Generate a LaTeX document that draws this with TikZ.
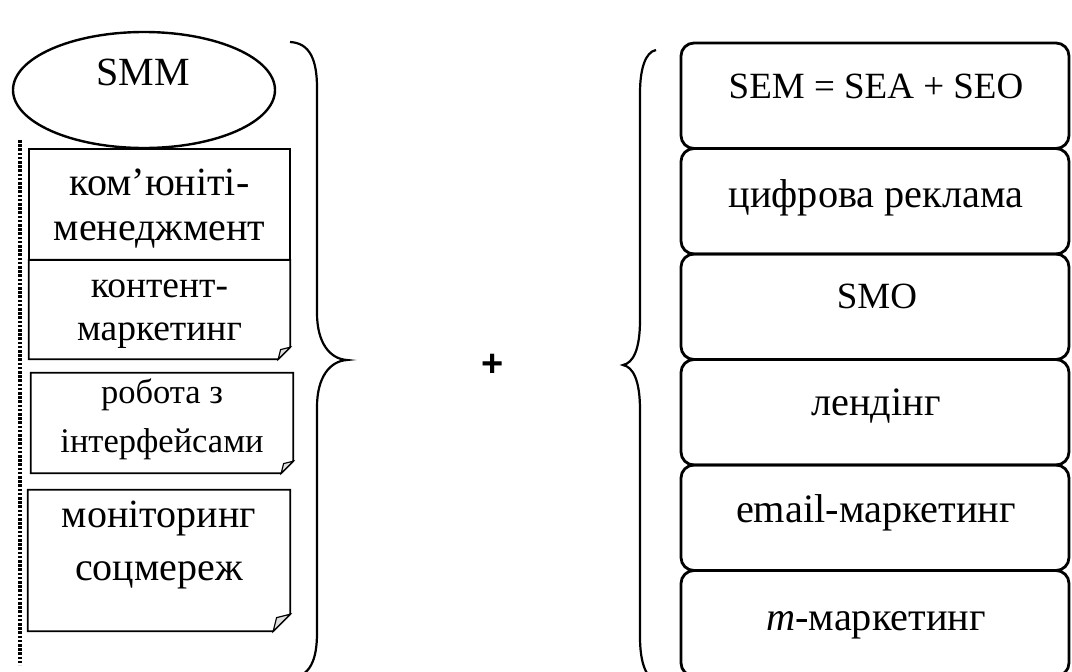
\documentclass[tikz,border=0pt]{standalone}
\usepackage{fontspec}
\setmainfont{Liberation Serif}
\setsansfont{Liberation Sans}
\usetikzlibrary{shapes.geometric}
\begin{document}
\begin{tikzpicture}[x=1pt,y=-1pt,
  rbox/.style={draw, rounded corners=13pt, line width=2.8pt, minimum width=388pt, minimum height=105.5pt, inner sep=0pt},
  lbox/.style={inner sep=0pt},
  edge/.style={line width=1.8pt, line join=miter},
  flap/.style={line width=1.2pt, fill=gray!25},
  brace/.style={line width=2.2pt},
  rtxt/.style={anchor=base, inner sep=0pt, font=\fontsize{37}{44}\selectfont},
  rctxt/.style={anchor=base, inner sep=0pt, font=\fontsize{40.3}{48}\selectfont},
  ltxt/.style={anchor=base, inner sep=0pt, font=\fontsize{40}{48}\selectfont},
  btxt/.style={anchor=base, inner sep=0pt, font=\fontsize{37.5}{44}\selectfont},
  stxt/.style={anchor=base, inner sep=0pt, font=\fontsize{34.5}{40}\selectfont},
]
\useasboundingbox (0,0) rectangle (1072,672);
\clip (0,0) rectangle (1072,672);

% dotted vertical line
\coordinate (d1) at (20,140);
\coordinate (d2) at (20,665);
\draw[line width=4.5pt, dash pattern=on 2.6pt off 1.6pt] (d1) -- (d2);

% SMM ellipse
\node[ellipse, draw, line width=2.4pt, minimum width=262pt, minimum height=116pt, inner sep=0pt] (smm) at (144,90) {};
\node[ltxt] (smmt) at (143,85) {SMM};

% left boxes
\node[lbox, minimum width=261pt, minimum height=111pt] (la) at (159.5,204.5) {};
\draw[edge] (la.north west) rectangle (la.south east);
\node[lbox, minimum width=261pt, minimum height=99pt] (lb) at (159.5,309.5) {};
\draw[edge] (lb.north west) -- (lb.north east) -- ([yshift=12pt]lb.south east) -- ([xshift=-12pt]lb.south east) -- (lb.south west) -- cycle;
\draw[flap] ([yshift=12pt]lb.south east) -- ([xshift=-9.6pt,yshift=9.6pt]lb.south east) -- ([xshift=-12pt]lb.south east) -- cycle;

\node[lbox, minimum width=262pt, minimum height=100pt] (lc) at (162,423) {};
\draw[edge] (lc.north west) -- (lc.north east) -- ([yshift=12pt]lc.south east) -- ([xshift=-12pt]lc.south east) -- (lc.south west) -- cycle;
\draw[flap] ([yshift=12pt]lc.south east) -- ([xshift=-9.6pt,yshift=9.6pt]lc.south east) -- ([xshift=-12pt]lc.south east) -- cycle;

\node[lbox, minimum width=262pt, minimum height=141pt] (ld) at (159,560.5) {};
\draw[edge] (ld.north west) -- (ld.north east) -- ([yshift=17pt]ld.south east) -- ([xshift=-17pt]ld.south east) -- (ld.south west) -- cycle;
\draw[flap] ([yshift=17pt]ld.south east) -- ([xshift=-13.6pt,yshift=13.6pt]ld.south east) -- ([xshift=-17pt]ld.south east) -- cycle;

% left texts
\node[ltxt] (la1) at (159.5,195) {ком’юніті-};
\node[ltxt] (la2) at (159.5,240) {менеджмент};
\node[btxt] (lb1) at (159.5,297) {контент-};
\node[btxt] (lb2) at (159.5,340) {маркетинг};
\node[stxt] (lc1) at (162,403) {робота з};
\node[stxt] (lc2) at (162,452) {інтерфейсами};
\node[ltxt] (ld1) at (159,527) {моніторинг};
\node[ltxt] (ld2) at (159,580) {соцмереж};

% left brace
\draw[brace] (290,42) .. controls (310,43) and (317,60) .. (317,88) -- (317,313)
  .. controls (317,343) and (330,359) .. (347,360)
  .. controls (330,361) and (317,377) .. (317,407) -- (317,633)
  .. controls (317,660) and (310,677) .. (290,678);

% plus
\node[inner sep=0pt, font=\sffamily\bfseries\fontsize{38}{44}\selectfont] (plus) at (493,365) {+};

% right brace
\draw[brace] (656,50) .. controls (645,52) and (640,70) .. (640,93) -- (640,320)
  .. controls (640,350) and (633,363) .. (623,365)
  .. controls (633,367) and (640,380) .. (640,410) -- (640,637)
  .. controls (640,660) and (645,678) .. (656,680);

% right boxes
\node[rbox] (r1) at (875,95.75) {};
\node[rbox] (r2) at (875,201.25) {};
\node[rbox] (r3) at (875,306.75) {};
\node[rbox] (r4) at (875,412.25) {};
\node[rbox] (r5) at (875,517.75) {};
\node[rbox] (r6) at (875,623.25) {};
\node[rtxt] (t1) at (876,98) {SEM = SEA + SEO};
\node[rctxt] (t2) at (876,207) {цифрова реклама};
\node[rtxt] (t3) at (877,308) {SMO};
\node[rctxt] (t4) at (876,415) {лендінг};
\node[rctxt] (t5) at (876,522) {email-маркетинг};
\node[rctxt] (t6) at (876,630) {\textit{m}-маркетинг};
\end{tikzpicture}
\end{document}
